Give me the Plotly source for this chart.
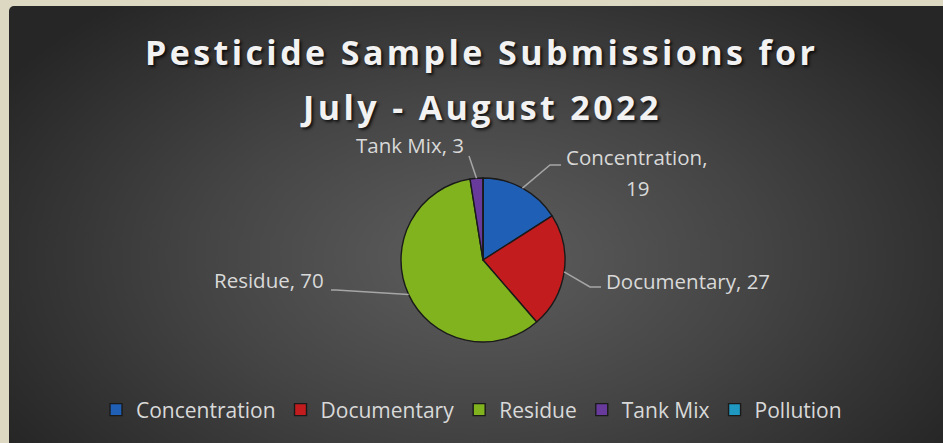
import base64, math
import plotly.graph_objects as go

# ---- data ----
categories = ["Concentration", "Documentary", "Residue", "Tank Mix", "Pollution"]
values = [19, 27, 70, 3, 0]
colors = ["#1f5fb5", "#c21c1e", "#80b31e", "#673a9c", "#1f99c2"]
title_lines = ["Pesticide Sample Submissions for", "July - August 2022"]

W, H = 943, 443
CX, CY, R = 483, 260, 82

def px(x):
    return x / W

def py(y):
    return 1 - y / H

# ---- background: beige frame + radial-gradient panel, full figure size ----
svg = f'''<svg xmlns="http://www.w3.org/2000/svg" width="{W}" height="{H}" viewBox="0 0 {W} {H}" preserveAspectRatio="none">
<defs><radialGradient id="g" gradientUnits="userSpaceOnUse" cx="480" cy="258" r="560" gradientTransform="translate(480 258) scale(1 0.6) translate(-480 -258)">
<stop offset="0" stop-color="#5e5e5e"/><stop offset="0.5" stop-color="#444444"/><stop offset="1" stop-color="#262626"/></radialGradient></defs>
<rect x="0" y="0" width="{W}" height="{H}" fill="#ddd8c2"/>
<rect x="9" y="6" width="{W + 20}" height="{H + 20}" rx="5" fill="url(#g)"/></svg>'''
src = "data:image/svg+xml;base64," + base64.b64encode(svg.encode()).decode()

fig = go.Figure()
fig.add_trace(go.Pie(
    labels=categories, values=values, sort=False, direction="clockwise", rotation=0,
    marker=dict(colors=colors, line=dict(color="#1a1a1a", width=1.4)),
    textinfo="none", hoverinfo="label+value",
    domain=dict(x=[px(CX - R), px(CX + R)], y=[py(CY + R), py(CY - R)]),
    showlegend=True,
))

# ---- data labels with leader lines, anchored on slice mid-angles ----
total = sum(values)
mids = []
acc = 0
for v in values:
    mids.append((acc + v / 2) / total * 2 * math.pi)
    acc += v

# layout offsets for the elbow / end of each leader line and label placement
label_layout = {
    "Concentration": dict(elbow=(550, 165), end=(561, 165)),
    "Documentary": dict(elbow=(590, 287), end=(601, 287)),
    "Residue": dict(elbow=(336, 290), end=(331, 290)),
    "Tank Mix": dict(elbow=(469, 156), end=(469, 156)),
}
shapes = []
annotations = []
lab_font = dict(family="Open Sans", size=20.5, color="#d9d9d9")
for name, v, a in zip(categories, values, mids):
    if v == 0 or name not in label_layout:
        continue
    ex, ey = CX + R * math.sin(a), CY - R * math.cos(a)
    lay = label_layout[name]
    (bx, by), (tx, ty) = lay["elbow"], lay["end"]
    path = f"M{px(ex)},{py(ey)} L{px(bx)},{py(by)} L{px(tx)},{py(ty)}"
    shapes.append(dict(type="path", xref="paper", yref="paper", path=path,
                       line=dict(color="#a6a6a6", width=1.5)))
    if name == "Concentration":
        annotations.append(dict(text=f"{name},", x=px(tx + 3), y=py(157), xanchor="left",
                                yanchor="middle", showarrow=False, font=lab_font))
        annotations.append(dict(text=f"{v}", x=px(637), y=py(188), xanchor="center",
                                yanchor="middle", showarrow=False, font=lab_font))
    elif name == "Documentary":
        annotations.append(dict(text=f"{name}, {v}", x=px(tx + 3), y=py(281), xanchor="left",
                                yanchor="middle", showarrow=False, font=lab_font))
    elif name == "Residue":
        annotations.append(dict(text=f"{name}, {v}", x=px(tx - 5), y=py(280), xanchor="right",
                                yanchor="middle", showarrow=False, font=lab_font))
    elif name == "Tank Mix":
        annotations.append(dict(text=f"{name}, {v}", x=px(466), y=py(145), xanchor="right",
                                yanchor="middle", showarrow=False, font=lab_font))

# ---- title ----
title_font = dict(family="Open Sans", size=34, color="#f2f2f2", weight="bold",
                  shadow="2px 2px 3px rgba(0,0,0,0.75)")
for i, line in enumerate(title_lines):
    annotations.append(dict(
        text=f'<span style="letter-spacing:3.4px">{line}</span>',
        x=px(481), y=py(52 + i * 55), xanchor="center", yanchor="middle",
        showarrow=False, font=title_font))

fig.update_layout(
    width=W, height=H, margin=dict(l=0, r=0, t=0, b=0),
    paper_bgcolor="#262626", plot_bgcolor="rgba(0,0,0,0)",
    images=[dict(source=src, xref="paper", yref="paper", x=0, y=1,
                 sizex=1, sizey=1, xanchor="left", yanchor="top",
                 sizing="stretch", layer="below")],
    shapes=shapes, annotations=annotations,
    legend=dict(orientation="h", x=0.5, xanchor="center", y=py(410), yanchor="middle",
                font=dict(family="Open Sans", size=21, color="#d9d9d9"),
                bgcolor="rgba(0,0,0,0)", traceorder="normal"),
)

fig.write_html("out.html", config={"displayModeBar": False},
               post_script="document.body.style.margin='0px';")
